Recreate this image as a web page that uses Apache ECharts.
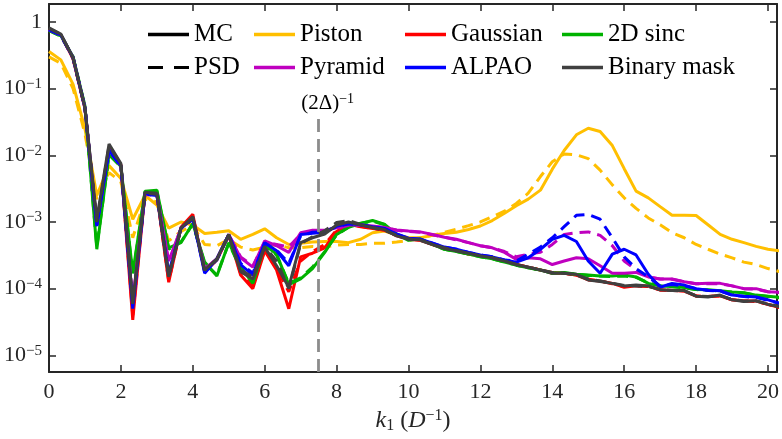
<!DOCTYPE html>
<html>
<head>
<meta charset="utf-8">
<script src="https://cdn.jsdelivr.net/npm/echarts@6/dist/echarts.min.js"></script>
<style>
  html, body { margin: 0; padding: 0; background: #fff; }
  #chart { width: 782px; height: 439px; }
</style>
</head>
<body>
<div id="chart"></div>
<script>
// spatial frequency k1 (1/D), sampled every 1/3
var kx = [0, 0.33, 0.67, 1, 1.33, 1.67, 2, 2.33, 2.67, 3, 3.33, 3.67, 4, 4.33, 4.67, 5, 5.33, 5.67,
  6, 6.33, 6.67, 7, 7.33, 7.67, 8, 8.33, 8.67, 9, 9.33, 9.67, 10, 10.33, 10.67, 11, 11.33, 11.67,
  12, 12.33, 12.67, 13, 13.33, 13.67, 14, 14.33, 14.67, 15, 15.33, 15.67, 16, 16.33, 16.67, 17,
  17.33, 17.67, 18, 18.33, 18.67, 19, 19.33, 19.67, 20, 20.33];

var pistonMC = [0.36, 0.27, 0.116, 0.025, 2.5e-3, 7.0e-3,
  4.5e-3, 1.1e-3, 2.5e-3, 1.8e-3, 8.1e-4, 1.0e-3,
  9.0e-4, 6.7e-4, 7.0e-4, 7.4e-4, 5.5e-4, 6.5e-4,
  7.9e-4, 5.8e-4, 4.6e-4, 4.8e-4, 5.0e-4, 5.1e-4,
  5.1e-4, 4.9e-4, 5.5e-4, 6.9e-4, 7.3e-4, 6.4e-4,
  5.8e-4, 5.8e-4, 6.3e-4, 6.7e-4, 7.0e-4, 7.7e-4,
  8.7e-4, 1.05e-3, 1.35e-3, 1.75e-3, 2.2e-3, 3.0e-3,
  6.2e-3, 0.0118, 0.0203, 0.0255, 0.0228, 0.014,
  6.3e-3, 2.9e-3, 2.3e-3, 1.7e-3, 1.26e-3, 1.26e-3,
  1.25e-3, 9.1e-4, 6.5e-4, 5.5e-4, 4.9e-4, 4.3e-4,
  3.9e-4, 3.7e-4];
var pistonPSD = [0.30, 0.24, 0.10, 0.021, 2.2e-3, 5.5e-3,
  4.0e-3, 5.8e-4, 2.2e-3, 2.0e-3, 5.2e-4, 7.2e-4,
  8.9e-4, 4.6e-4, 4.4e-4, 5.5e-4, 4.2e-4, 3.8e-4,
  4.2e-4, 4.6e-4, 4.1e-4, 4.1e-4, 4.3e-4, 4.2e-4,
  4.5e-4, 4.6e-4, 4.6e-4, 4.8e-4, 4.8e-4, 5.0e-4,
  5.3e-4, 5.8e-4, 6.3e-4, 7.0e-4, 7.8e-4, 8.8e-4,
  1.0e-3, 1.2e-3, 1.45e-3, 1.9e-3, 2.7e-3, 4.8e-3,
  8.0e-3, 0.0105, 0.0102, 8.9e-3, 6.0e-3, 3.6e-3,
  2.3e-3, 1.6e-3, 1.15e-3, 9.1e-4, 6.9e-4, 5.8e-4,
  4.6e-4, 3.9e-4, 3.3e-4, 2.9e-4, 2.5e-4, 2.3e-4,
  2.0e-4, 1.8e-4];

var gaussMC = [0.78, 0.64, 0.28, 0.050, 9.0e-4, 0.013,
  7.2e-3, 3.4e-5, 2.7e-3, 2.6e-3, 1.25e-4, 8.3e-4,
  1.3e-3, 1.8e-4, 2.7e-4, 6.4e-4, 1.6e-4, 1.0e-4,
  3.7e-4, 1.9e-4, 5.0e-5, 3.0e-4, 3.4e-4, 4.1e-4,
  7.2e-4, 9.2e-4, 8.5e-4, 8.0e-4, 7.6e-4, 6.3e-4,
  5.6e-4, 5.3e-4, 4.6e-4, 4.0e-4, 3.7e-4, 3.3e-4,
  3.1e-4, 2.9e-4, 2.6e-4, 2.3e-4, 2.1e-4, 1.9e-4,
  1.75e-4, 1.7e-4, 1.6e-4, 1.35e-4, 1.3e-4, 1.2e-4,
  1.05e-4, 1.1e-4, 1.1e-4, 9.5e-5, 9.5e-5, 9.2e-5,
  7.7e-5, 7.6e-5, 7.8e-5, 6.8e-5, 6.6e-5, 6.5e-5,
  5.8e-5, 5.2e-5];
var gaussPSD = [0.77, 0.63, 0.28, 0.050, 9.2e-4, 0.0128,
  7.1e-3, 4.0e-5, 2.7e-3, 2.6e-3, 1.3e-4, 8.2e-4,
  1.25e-3, 1.8e-4, 2.7e-4, 6.3e-4, 1.7e-4, 1.1e-4,
  3.8e-4, 2.0e-4, 9.0e-5, 2.6e-4, 3.6e-4, 4.6e-4,
  7.6e-4, 9.4e-4, 8.6e-4, 8.0e-4, 7.5e-4, 6.2e-4,
  5.5e-4, 5.3e-4, 4.6e-4, 4.0e-4, 3.7e-4, 3.3e-4,
  3.1e-4, 2.9e-4, 2.6e-4, 2.3e-4, 2.1e-4, 1.9e-4,
  1.7e-4, 1.7e-4, 1.6e-4, 1.38e-4, 1.3e-4, 1.18e-4,
  1.08e-4, 1.1e-4, 1.08e-4, 9.6e-5, 9.4e-5, 9.2e-5,
  7.8e-5, 7.6e-5, 7.8e-5, 6.8e-5, 6.5e-5, 6.4e-5,
  5.8e-5, 5.2e-5];

var sincMC = [0.75, 0.62, 0.30, 0.055, 3.9e-4, 0.0105,
  6.8e-3, 1.7e-4, 2.9e-3, 3.0e-3, 4.1e-4, 4.9e-4,
  9.5e-4, 2.5e-4, 1.55e-4, 4.9e-4, 2.1e-4, 1.2e-4,
  4.5e-4, 3.3e-4, 1.15e-4, 1.4e-4, 2.0e-4, 3.5e-4,
  6.5e-4, 8.3e-4, 9.5e-4, 1.05e-3, 9.3e-4, 6.5e-4,
  5.3e-4, 5.6e-4, 4.6e-4, 3.9e-4, 3.6e-4, 3.3e-4,
  3.0e-4, 2.8e-4, 2.5e-4, 2.25e-4, 2.05e-4, 1.9e-4,
  1.7e-4, 1.75e-4, 1.65e-4, 1.6e-4, 1.55e-4, 1.55e-4,
  1.6e-4, 1.5e-4, 1.2e-4, 1.1e-4, 1.08e-4, 1.04e-4,
  9.7e-5, 9.6e-5, 9.3e-5, 8.9e-5, 8.7e-5, 8.0e-5,
  7.7e-5, 7.4e-5];
var sincPSD = [0.74, 0.61, 0.30, 0.054, 4.2e-4, 0.0102,
  6.7e-3, 1.6e-4, 2.8e-3, 2.9e-3, 3.9e-4, 5.0e-4,
  9.3e-4, 2.4e-4, 1.6e-4, 4.8e-4, 2.0e-4, 1.25e-4,
  4.4e-4, 3.2e-4, 1.2e-4, 1.45e-4, 2.1e-4, 3.6e-4,
  6.4e-4, 8.4e-4, 9.6e-4, 1.03e-3, 9.1e-4, 6.6e-4,
  5.4e-4, 5.5e-4, 4.6e-4, 3.9e-4, 3.6e-4, 3.3e-4,
  3.0e-4, 2.8e-4, 2.5e-4, 2.25e-4, 2.05e-4, 1.9e-4,
  1.72e-4, 1.72e-4, 1.65e-4, 1.58e-4, 1.55e-4, 1.52e-4,
  1.55e-4, 1.48e-4, 1.22e-4, 1.1e-4, 1.07e-4, 1.03e-4,
  9.7e-5, 9.5e-5, 9.2e-5, 8.8e-5, 8.6e-5, 8.0e-5,
  7.6e-5, 7.3e-5];

var pyrMC = [0.77, 0.64, 0.29, 0.052, 9.0e-4, 0.012,
  7.0e-3, 6.0e-5, 2.7e-3, 2.6e-3, 2.6e-4, 8.0e-4,
  1.15e-3, 2.0e-4, 2.8e-4, 6.5e-4, 2.9e-4, 2.1e-4,
  5.2e-4, 4.4e-4, 3.5e-4, 6.9e-4, 7.5e-4, 7.5e-4,
  8.2e-4, 9.0e-4, 9.0e-4, 8.7e-4, 8.3e-4, 7.6e-4,
  7.3e-4, 7.1e-4, 6.5e-4, 5.9e-4, 5.5e-4, 4.9e-4,
  4.4e-4, 4.1e-4, 3.5e-4, 2.75e-4, 2.9e-4, 2.8e-4,
  2.3e-4, 2.6e-4, 2.9e-4, 2.8e-4, 2.2e-4, 1.7e-4,
  1.7e-4, 1.75e-4, 1.5e-4, 1.4e-4, 1.4e-4, 1.27e-4,
  1.18e-4, 1.2e-4, 1.2e-4, 1.1e-4, 1.0e-4, 1.0e-4,
  9.0e-5, 8.8e-5];
var pyrPSD = [0.76, 0.63, 0.29, 0.051, 9.2e-4, 0.0118,
  6.9e-3, 6.5e-5, 2.6e-3, 2.5e-3, 2.4e-4, 8.1e-4,
  1.1e-3, 2.0e-4, 2.8e-4, 6.4e-4, 3.0e-4, 2.2e-4,
  5.0e-4, 4.6e-4, 4.2e-4, 6.6e-4, 7.3e-4, 7.4e-4,
  8.0e-4, 8.9e-4, 9.0e-4, 8.6e-4, 8.2e-4, 7.5e-4,
  7.2e-4, 7.0e-4, 6.4e-4, 5.9e-4, 5.4e-4, 4.9e-4,
  4.4e-4, 4.1e-4, 3.6e-4, 3.0e-4, 3.3e-4, 3.5e-4,
  4.6e-4, 6.5e-4, 6.9e-4, 7.1e-4, 6.3e-4, 4.4e-4,
  2.6e-4, 1.9e-4, 1.5e-4, 1.4e-4, 1.38e-4, 1.27e-4,
  1.18e-4, 1.18e-4, 1.18e-4, 1.1e-4, 1.0e-4, 9.8e-5,
  9.0e-5, 8.7e-5];

var alpaoMC = [0.77, 0.64, 0.29, 0.052, 8.7e-4, 0.012,
  7.0e-3, 5.0e-5, 2.7e-3, 2.6e-3, 1.6e-4, 8.0e-4,
  1.15e-3, 1.7e-4, 2.8e-4, 6.5e-4, 2.3e-4, 1.6e-4,
  4.9e-4, 3.7e-4, 2.2e-4, 6.5e-4, 6.8e-4, 7.0e-4,
  8.6e-4, 9.5e-4, 9.1e-4, 8.5e-4, 8.0e-4, 6.6e-4,
  5.7e-4, 5.5e-4, 4.8e-4, 4.2e-4, 3.9e-4, 3.5e-4,
  3.2e-4, 3.0e-4, 2.7e-4, 2.5e-4, 2.9e-4, 3.9e-4,
  5.5e-4, 6.3e-4, 5.1e-4, 2.6e-4, 1.7e-4, 3.3e-4,
  3.9e-4, 3.2e-4, 1.64e-4, 1.05e-4, 1.2e-4, 1.13e-4,
  1.0e-4, 9.5e-5, 9.3e-5, 8.0e-5, 7.7e-5, 7.5e-5,
  6.8e-5, 6.0e-5];
var alpaoPSD = [0.76, 0.63, 0.29, 0.051, 9.0e-4, 0.0118,
  6.9e-3, 5.5e-5, 2.6e-3, 2.5e-3, 1.7e-4, 8.0e-4,
  1.1e-3, 1.8e-4, 2.7e-4, 6.4e-4, 2.4e-4, 1.7e-4,
  4.8e-4, 3.8e-4, 2.4e-4, 6.2e-4, 7.0e-4, 7.2e-4,
  8.5e-4, 9.4e-4, 9.0e-4, 8.4e-4, 7.9e-4, 6.5e-4,
  5.7e-4, 5.5e-4, 4.8e-4, 4.2e-4, 3.9e-4, 3.5e-4,
  3.2e-4, 3.0e-4, 2.7e-4, 2.6e-4, 3.3e-4, 4.2e-4,
  5.8e-4, 8.5e-4, 1.26e-3, 1.3e-3, 1.1e-3, 5.8e-4,
  3.0e-4, 2.0e-4, 1.5e-4, 1.1e-4, 1.15e-4, 1.1e-4,
  1.0e-4, 9.4e-5, 9.2e-5, 8.0e-5, 7.6e-5, 7.4e-5,
  6.7e-5, 6.0e-5];

var binMC = [0.82, 0.66, 0.29, 0.052, 1.1e-3, 0.0148,
  7.5e-3, 5.9e-5, 2.8e-3, 2.7e-3, 1.5e-4, 8.1e-4,
  1.2e-3, 1.9e-4, 2.8e-4, 6.5e-4, 1.8e-4, 1.4e-4,
  4.2e-4, 2.2e-4, 1.05e-4, 4.9e-4, 5.8e-4, 6.6e-4,
  9.0e-4, 1.0e-3, 9.0e-4, 8.3e-4, 7.7e-4, 6.2e-4,
  5.5e-4, 5.4e-4, 4.6e-4, 4.0e-4, 3.7e-4, 3.4e-4,
  3.1e-4, 2.9e-4, 2.6e-4, 2.3e-4, 2.1e-4, 1.9e-4,
  1.7e-4, 1.7e-4, 1.64e-4, 1.35e-4, 1.28e-4, 1.2e-4,
  1.1e-4, 1.13e-4, 1.1e-4, 9.6e-5, 9.4e-5, 9.4e-5,
  7.7e-5, 7.5e-5, 8.0e-5, 6.8e-5, 6.4e-5, 6.6e-5,
  5.8e-5, 5.4e-5];
var binPSD = [0.80, 0.65, 0.29, 0.051, 1.0e-3, 0.014,
  7.3e-3, 6.2e-5, 2.7e-3, 2.6e-3, 1.6e-4, 8.0e-4,
  1.15e-3, 1.9e-4, 2.7e-4, 6.3e-4, 1.9e-4, 1.5e-4,
  4.3e-4, 2.6e-4, 1.0e-4, 4.7e-4, 6.0e-4, 7.4e-4,
  9.8e-4, 1.05e-3, 9.2e-4, 8.2e-4, 7.5e-4, 6.3e-4,
  5.6e-4, 5.3e-4, 4.6e-4, 4.1e-4, 3.7e-4, 3.4e-4,
  3.1e-4, 2.9e-4, 2.6e-4, 2.3e-4, 2.1e-4, 1.9e-4,
  1.75e-4, 1.7e-4, 1.6e-4, 1.4e-4, 1.3e-4, 1.2e-4,
  1.12e-4, 1.1e-4, 1.08e-4, 9.8e-5, 9.4e-5, 9.2e-5,
  7.8e-5, 7.6e-5, 7.8e-5, 6.9e-5, 6.5e-5, 6.5e-5,
  5.9e-5, 5.3e-5];

var nyquistK = 7.5;

var FONT = 'Liberation Serif';
var AXC = '#262626';
var DASH = [11, 7];

function pts(arr) {
  return kx.map(function (x, i) { return [x, arr[i]]; });
}

function curve(name, arr, color, dashed) {
  return {
    name: name,
    type: 'line',
    data: pts(arr),
    showSymbol: false,
    symbol: 'none',
    color: color,
    itemStyle: { color: color },
    lineStyle: { color: color, width: 3, type: dashed ? DASH : 'solid' },
    emphasis: { disabled: true },
    animation: false
  };
}

function expLabel(v) {
  var e = Math.round(Math.log10(v));
  if (e === 0) return '{b|1}';
  return '{b|10}{s|\u2212' + Math.abs(e) + '}';
}

var yRich = {
  b: { fontFamily: FONT, fontSize: 22, color: AXC, lineHeight: 24 },
  s: { fontFamily: FONT, fontSize: 15, color: AXC, verticalAlign: 'top', lineHeight: 15 }
};

var chart = echarts.init(document.getElementById('chart'), null, { renderer: 'canvas' });

var series = [
  { name: 'MC', type: 'line', data: [], color: '#000', itemStyle: { color: '#000' } },
  { name: 'PSD', type: 'line', data: [], color: '#000', itemStyle: { color: '#000' } },
  curve('Piston', pistonMC, '#FFBF00', false),
  curve('Piston PSD', pistonPSD, '#FFBF00', true),
  curve('Gaussian', gaussMC, '#FF0000', false),
  curve('Gaussian PSD', gaussPSD, '#FF0000', true),
  curve('2D sinc', sincMC, '#00B200', false),
  curve('2D sinc PSD', sincPSD, '#00B200', true),
  curve('Pyramid', pyrMC, '#BF00BF', false),
  curve('Pyramid PSD', pyrPSD, '#BF00BF', true),
  curve('ALPAO', alpaoMC, '#0000FF', false),
  curve('ALPAO PSD', alpaoPSD, '#0000FF', true),
  curve('Binary mask', binMC, '#404040', false),
  curve('Binary mask PSD', binPSD, '#404040', true)
];

// vertical dashed marker at (2Δ)^-1
series[series.length - 1].markLine = {
  silent: true,
  symbol: 'none',
  animation: false,
  lineStyle: { color: '#8C8C8C', width: 2.8, type: [13, 7] },
  label: {
    show: true,
    position: 'end',
    distance: 3,
    padding: [0, 0, 0, 18],
    formatter: '{a|(2\u0394)}{s|\u22121}',
    rich: {
      a: { fontFamily: FONT, fontSize: 21, color: '#000', lineHeight: 22 },
      s: { fontFamily: FONT, fontSize: 14, color: '#000', verticalAlign: 'top', lineHeight: 14 }
    }
  },
  data: [[{ coord: [nyquistK, 5.6e-6] }, { coord: [nyquistK, 0.0375] }]]
};

var solidIcon = 'rect';
var dashIcon = 'path://M0,0H15V3H0Z M26,0H41V3H26Z';

function legendCol(left, a, b) {
  return {
    orient: 'vertical',
    left: left,
    top: 22,
    itemWidth: 41,
    itemHeight: 3.5,
    itemGap: 8,
    padding: 0,
    selectedMode: false,
    textStyle: { fontFamily: FONT, fontSize: 25, color: '#000', lineHeight: 22 },
    data: [a, b]
  };
}

var option = {
  backgroundColor: '#fff',
  animation: false,
  grid: { left: 49, right: 5, top: 4, bottom: 65, containLabel: false },
  legend: [
    legendCol(148, { name: 'MC', icon: solidIcon, itemStyle: { color: '#000' } },
                   { name: 'PSD', icon: dashIcon, itemStyle: { color: '#000' } }),
    legendCol(254, { name: 'Piston', icon: solidIcon, itemStyle: { color: '#FFBF00' } },
                   { name: 'Pyramid', icon: solidIcon, itemStyle: { color: '#BF00BF' } }),
    legendCol(405, { name: 'Gaussian', icon: solidIcon, itemStyle: { color: '#FF0000' } },
                   { name: 'ALPAO', icon: solidIcon, itemStyle: { color: '#0000FF' } }),
    legendCol(562, { name: '2D sinc', icon: solidIcon, itemStyle: { color: '#00B200' } },
                   { name: 'Binary mask', icon: solidIcon, itemStyle: { color: '#404040' } })
  ],
  xAxis: [
    {
      type: 'value', position: 'bottom', min: 0, max: 20.25, interval: 2,
      axisLine: { onZero: false, lineStyle: { color: AXC, width: 2 } },
      axisTick: { inside: true, length: 7, lineStyle: { color: AXC, width: 1.5 } },
      axisLabel: {
        fontFamily: FONT, fontSize: 22, color: AXC, margin: 9,
        formatter: function (v) { return v % 2 === 0 ? String(v) : ''; }
      },
      splitLine: { show: false },
      name: '{i|k}{sub|1}{n| (}{i|D}{sup|\u22121}{n|)}',
      nameLocation: 'middle',
      nameGap: 26,
      nameTextStyle: {
        rich: {
          i: { fontFamily: FONT, fontSize: 24, fontStyle: 'italic', color: AXC, lineHeight: 26 },
          n: { fontFamily: FONT, fontSize: 24, color: AXC, lineHeight: 26 },
          sub: { fontFamily: FONT, fontSize: 16, color: AXC, verticalAlign: 'bottom', lineHeight: 14 },
          sup: { fontFamily: FONT, fontSize: 16, color: AXC, verticalAlign: 'top', lineHeight: 16 }
        }
      }
    },
    {
      type: 'value', position: 'top', min: 0, max: 20.25, interval: 2,
      axisLine: { onZero: false, lineStyle: { color: AXC, width: 2 } },
      axisTick: { inside: true, length: 7, lineStyle: { color: AXC, width: 1.5 } },
      axisLabel: { show: false },
      splitLine: { show: false }
    }
  ],
  yAxis: [
    {
      type: 'log', logBase: 10, position: 'left', min: 5.6e-6, max: 1.86,
      axisLine: { onZero: false, lineStyle: { color: AXC, width: 2 } },
      axisTick: { inside: true, length: 7, lineStyle: { color: AXC, width: 1.5 } },
      minorTick: { show: false },
      axisLabel: {
        showMinLabel: false, showMaxLabel: false, margin: 7,
        formatter: expLabel, rich: yRich
      },
      splitLine: { show: false }
    },
    {
      type: 'log', logBase: 10, position: 'right', min: 5.6e-6, max: 1.86,
      axisLine: { onZero: false, lineStyle: { color: AXC, width: 2 } },
      axisTick: { inside: true, length: 7, lineStyle: { color: AXC, width: 1.5 } },
      minorTick: { show: false },
      axisLabel: { show: false },
      splitLine: { show: false }
    }
  ],
  series: series
};

chart.setOption(option);
</script>
</body>
</html>
